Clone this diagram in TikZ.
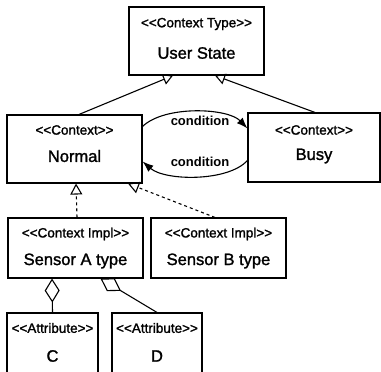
\documentclass[tikz,border=0pt]{standalone}
\usepackage{fontspec}
\setmainfont{Liberation Sans}
\newfontfamily\heavyfont{Liberation Sans}[FakeBold=1.5]
\usetikzlibrary{arrows.meta,calc}
\newcommand{\stxt}[1]{<{}<#1>{}>}
\tikzset{
  box/.style={draw,line width=1.1pt,rectangle,inner sep=0pt,fill=white},
  stereo/.style={font=\heavyfont\fontsize{13.5}{14}\selectfont,inner sep=0pt},
  nm/.style={font=\heavyfont\fontsize{16.5}{17}\selectfont,inner sep=0pt},
  cond/.style={font=\bfseries\fontsize{13}{14}\selectfont,inner sep=0pt},
  gen/.style={line width=1.1pt,-{Triangle[open,length=10pt,width=11pt]}},
  real/.style={line width=1.1pt,dashed,dash pattern=on 3pt off 3pt,-{Triangle[open,length=11pt,width=12pt]}},
  flow/.style={line width=1.1pt,-{Latex[length=11pt,width=8pt]}},
  agg/.style={line width=1.1pt,-{Diamond[open,length=24pt,width=15pt]}}
}
\begin{document}
\begin{tikzpicture}[x=1pt,y=-1pt]
\useasboundingbox (0,0) rectangle (381,372);
\clip (0,0) rectangle (381,372);
% boxes
\node[box,minimum width=135pt,minimum height=68pt] (us) at (196.5,41) {};
\node[box,minimum width=135pt,minimum height=68pt] (normal) at (74.5,149) {};
\node[box,minimum width=132pt,minimum height=69pt] (busy) at (314,147.5) {};
\node[box,minimum width=135pt,minimum height=60pt] (sa) at (75.5,248) {};
\node[box,minimum width=135pt,minimum height=60pt] (sb) at (218.5,248) {};
\node[box,minimum width=91pt,minimum height=70pt] (c) at (52.5,348) {};
\node[box,minimum width=90pt,minimum height=70pt] (d) at (157,348) {};
% texts
\node[stereo] (usS) at (196.5,24) {\stxt{Context Type}};
\node[nm] (usN) at (196.5,53) {User State};
\node[stereo] (nS) at (74.5,130) {\stxt{Context}};
\node[nm] (nN) at (74.5,156) {Normal};
\node[stereo] (bS) at (314,130) {\stxt{Context}};
\node[nm] (bN) at (314,156) {Busy};
\node[stereo] (saS) at (75.5,234) {\stxt{Context Impl}};
\node[nm] (saN) at (75.5,261) {Sensor A type};
\node[stereo] (sbS) at (218.5,234) {\stxt{Context Impl}};
\node[nm] (sbN) at (218.5,261) {Sensor B type};
\node[stereo] (cS) at (52.5,328) {\stxt{Attribute}};
\node[nm] (cN) at (52.5,356) {C};
\node[stereo] (dS) at (157,328) {\stxt{Attribute}};
\node[nm] (dN) at (157,356) {D};
% generalization
\draw[gen] ([xshift=4.5pt]normal.north) -- ([xshift=-23.5pt]us.south);
\draw[gen] ([xshift=1pt]busy.north) -- ([xshift=18.5pt]us.south);
% conditions
\draw[flow] ([yshift=-12pt]normal.north east) .. controls (165,105) and (228,108) .. ([yshift=-16pt]busy.north west);
\draw[flow] ([yshift=-48pt]busy.north west) .. controls (228,182) and (165,181) .. ([yshift=-47pt]normal.north east);
\node[cond] (c1) at (200,121) {condition};
\node[cond] (c2) at (200,162) {condition};
% realization
\draw[real] ([xshift=1.5pt]sa.north) -- ([xshift=1.5pt]normal.south);
\draw[real] ([xshift=-3.5pt]sb.north) -- ([xshift=53.5pt]normal.south);
% aggregation
\draw[agg] (c.north) -- ([xshift=-23.5pt]sa.south);
\draw[agg] (d.north) -- ([xshift=25pt]sa.south);
\end{tikzpicture}
\end{document}
